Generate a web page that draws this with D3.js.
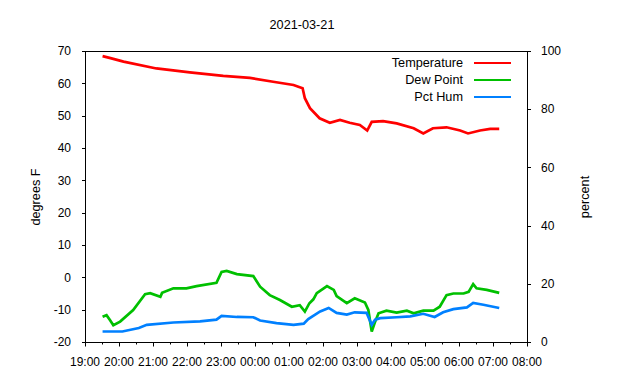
<!DOCTYPE html>
<html><head><meta charset="utf-8">
<script src="https://cdn.jsdelivr.net/npm/d3@7"></script>
<style>
body{margin:0;background:#fff;}
text{font-family:"Liberation Sans",Arial,sans-serif;font-size:12px;fill:#000;}
text.big{font-size:12.7px;}
</style></head>
<body><svg id="c" width="640" height="380"></svg>
<script>
const title = "2021-03-21";
const yLeftLabel = "degrees F";
const yRightLabel = "percent";
const seriesNames = ["Temperature", "Dew Point", "Pct Hum"];
const seriesColors = ["#ff0000", "#00c000", "#0080ff"];
const xTickLabels = ["19:00","20:00","21:00","22:00","23:00","00:00","01:00","02:00","03:00","04:00","05:00","06:00","07:00","08:00"];
const yLeftTicks = [-20,-10,0,10,20,30,40,50,60,70];
const yRightTicks = [0,20,40,60,80,100];

const tempTimes = ["19:31","19:45","20:08","21:06","22:05","23:04","23:51","00:32","01:08","01:24","01:28","01:37","01:54","02:12","02:30","02:47","03:05","03:18","03:26","03:46","04:10","04:40","04:57","05:14","05:38","06:02","06:16","06:37","06:55","07:11"];
const tempValues = [68.4,67.8,66.7,64.6,63.4,62.3,61.7,60.5,59.5,58.5,55.4,52.3,49.2,47.8,48.7,47.8,47.1,45.4,48.1,48.3,47.6,46.1,44.5,46.1,46.4,45.4,44.5,45.4,45.9,45.9];

const dewTimes = ["19:31","19:38","19:44","19:50","20:02","20:25","20:46","20:55","21:13","21:16","21:36","21:59","22:17","22:52","23:01","23:10","23:28","23:57","00:09","00:26","00:44","01:05","01:19","01:28","01:36","01:43","01:49","02:07","02:19","02:24","02:42","02:56","03:14","03:20","03:26","03:32","03:38","03:52","04:10","04:28","04:40","04:57","05:15","05:26","05:38","05:50","06:08","06:17","06:25","06:31","06:49","07:11"];
const dewValues = [-12.2,-11.7,-13.2,-14.8,-13.7,-10.1,-5.2,-4.9,-6.0,-4.8,-3.4,-3.4,-2.7,-1.7,1.7,2.0,1.0,0.4,-2.9,-5.5,-7.0,-9.1,-8.6,-10.6,-8.0,-6.8,-4.9,-2.7,-3.9,-5.8,-8.0,-6.5,-7.8,-10.1,-16.8,-13.7,-11.1,-10.3,-10.9,-10.3,-11.1,-10.3,-10.3,-9.1,-5.5,-5.0,-5.0,-4.5,-2.1,-3.4,-3.9,-4.8];

const humTimes = ["19:31","20:06","20:35","20:49","21:36","22:23","22:52","23:01","23:28","23:57","00:09","00:38","01:08","01:26","01:34","01:55","02:10","02:24","02:42","02:56","03:17","03:26","03:32","03:41","04:10","04:34","04:57","05:17","05:32","05:50","06:14","06:25","06:43","07:11"];
const humValues = [3.6,3.6,4.8,5.9,6.7,7.1,7.7,9.0,8.6,8.5,7.4,6.5,5.9,6.3,7.9,10.5,11.7,10.0,9.4,10.2,10.0,5.9,7.7,8.2,8.5,8.8,9.7,8.6,10.2,11.3,11.9,13.4,12.8,11.7];

function parseT(s){
  const [h,m] = s.split(":").map(Number);
  const day = h >= 19 ? 20 : 21;
  return new Date(2021, 2, day, h, m);
}

const svg = d3.select("#c");
const L = 85, R = 527, T = 51, B = 342;
const x = d3.scaleTime().domain([parseT("19:00"), parseT("08:00")]).range([L, R]);
const yL = d3.scaleLinear().domain([-20, 70]).range([B, T]);
const yR = d3.scaleLinear().domain([0, 100]).range([B, T]);

// frame
svg.append("rect").attr("x", L+0.5).attr("y", T+0.5).attr("width", R-L).attr("height", B-T)
  .attr("fill","none").attr("stroke","#000").attr("stroke-width",1);

// bottom axis
const majorTicks = xTickLabels.map(parseT);
const gx = svg.append("g").attr("transform", `translate(0.5,${B+0.5})`);
const minorTicks = d3.timeMinute.every(30).range(parseT("19:00"), parseT("08:00"));
gx.selectAll("line.minor").data(minorTicks).join("line")
  .attr("x1", d=>Math.round(x(d))).attr("x2", d=>Math.round(x(d))).attr("y1",0).attr("y2",2)
  .attr("stroke","#000");
gx.selectAll("line.major").data(majorTicks).join("line")
  .attr("x1", d=>Math.round(x(d))).attr("x2", d=>Math.round(x(d))).attr("y1",0).attr("y2",4)
  .attr("stroke","#000");
svg.append("g").selectAll("text").data(majorTicks).join("text")
  .attr("x", d=>x(d)).attr("y", 366).attr("text-anchor","middle")
  .text((d,i)=>xTickLabels[i]);

// left axis
const gl = svg.append("g");
gl.selectAll("line").data(yLeftTicks).join("line")
  .attr("x1", L-3).attr("x2", L).attr("y1", d=>Math.round(yL(d))+0.5).attr("y2", d=>Math.round(yL(d))+0.5)
  .attr("stroke","#000");
gl.selectAll("text").data(yLeftTicks).join("text")
  .attr("x", 71).attr("y", d=>yL(d)).attr("dy","0.35em").attr("text-anchor","end").text(d=>d);

// right axis
const gr = svg.append("g");
gr.selectAll("line").data(yRightTicks).join("line")
  .attr("x1", R+1).attr("x2", R+4).attr("y1", d=>Math.round(yR(d))+0.5).attr("y2", d=>Math.round(yR(d))+0.5)
  .attr("stroke","#000");
gr.selectAll("text").data(yRightTicks).join("text")
  .attr("x", 541).attr("y", d=>yR(d)).attr("dy","0.35em").attr("text-anchor","start").text(d=>d);

// axis titles
svg.append("text").attr("class","big").attr("transform","translate(40,197) rotate(-90)").attr("text-anchor","middle").text(yLeftLabel);
svg.append("text").attr("class","big").attr("transform","translate(589,197) rotate(-90)").attr("text-anchor","middle").text(yRightLabel);
svg.append("text").attr("class","big").attr("x", 302).attr("y", 29).attr("text-anchor","middle").text(title);

// lines
const mk = (times, vals) => times.map((t,i)=>({t:parseT(t), v:vals[i]}));
const lineL = d3.line().x(d=>x(d.t)).y(d=>yL(d.v));
const lineR = d3.line().x(d=>x(d.t)).y(d=>yR(d.v));
svg.append("path").datum(mk(tempTimes,tempValues)).attr("d",lineL)
  .attr("fill","none").attr("stroke",seriesColors[0]).attr("stroke-width",2.7);
svg.append("path").datum(mk(dewTimes,dewValues)).attr("d",lineL)
  .attr("fill","none").attr("stroke",seriesColors[1]).attr("stroke-width",2.7);
svg.append("path").datum(mk(humTimes,humValues)).attr("d",lineR)
  .attr("fill","none").attr("stroke",seriesColors[2]).attr("stroke-width",2.7);

// legend
const legY = [63, 80, 97];
const lg = svg.append("g");
seriesNames.forEach((n,i)=>{
  lg.append("text").attr("class","big").attr("x",463).attr("y",legY[i]).attr("dy","0.35em").attr("text-anchor","end").text(n);
  lg.append("line").attr("x1",474).attr("x2",511).attr("y1",legY[i]).attr("y2",legY[i])
    .attr("stroke",seriesColors[i]).attr("stroke-width",2);
});
</script></body></html>
